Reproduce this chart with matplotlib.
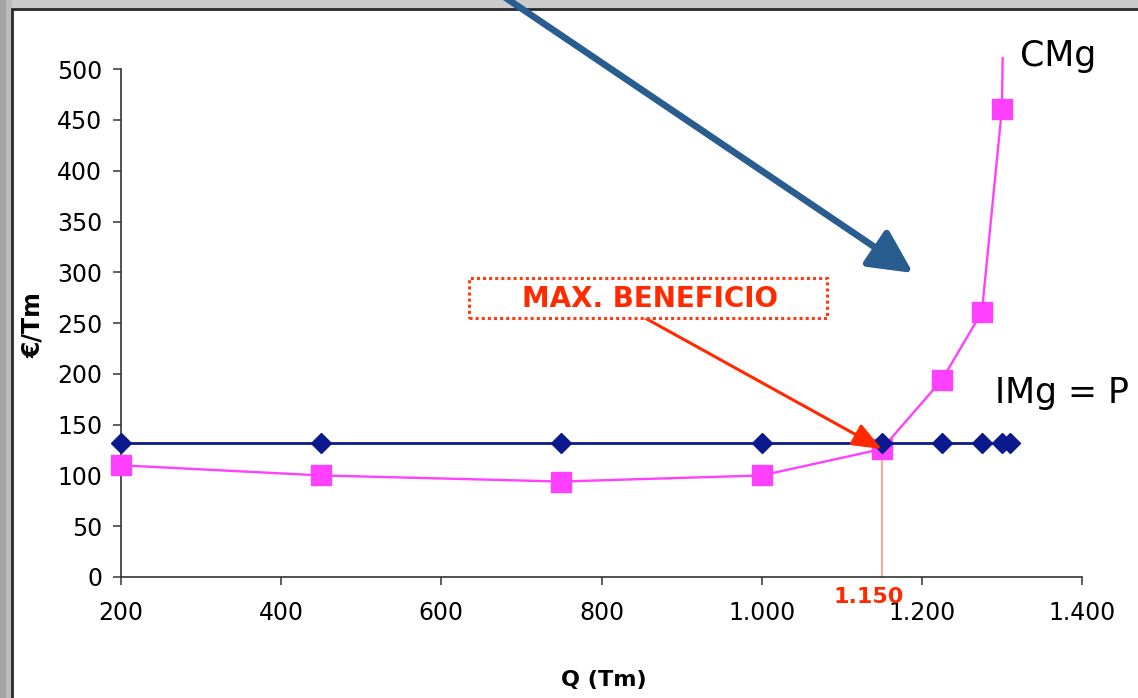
import matplotlib
matplotlib.use('Agg')
import matplotlib.pyplot as plt
from matplotlib.patches import Rectangle, FancyArrowPatch
import numpy as np

# ---- data ----
q = [200, 450, 750, 1000, 1150, 1225, 1275, 1300, 1310]
img_p = [132, 132, 132, 132, 132, 132, 132, 132, 132]
cmg = [110, 100, 94, 100, 126, 194, 261, 461, 1000]
q_opt = 1150
cmg_opt = 126
x_ticks = [200, 400, 600, 800, 1000, 1200, 1400]
x_tick_labels = ['200', '400', '600', '800', '1.000', '1.200', '1.400']
y_ticks = [0, 50, 100, 150, 200, 250, 300, 350, 400, 450, 500]

W, H = 1138, 698
fig = plt.figure(figsize=(W / 100, H / 100), dpi=100)
fig.patch.set_facecolor('#CCCCCC')

def fx(px):
    return px / W

def fy(py):
    return 1 - py / H

# background panel
fig.patches.append(Rectangle((fx(0), 0), fx(6), 1, transform=fig.transFigure,
                             facecolor='#A4A4A4', edgecolor='none', zorder=-3))
fig.patches.append(Rectangle((fx(6), 0), fx(6), 1, transform=fig.transFigure,
                             facecolor='#BCBCBC', edgecolor='none', zorder=-2))
fig.patches.append(Rectangle((fx(12), -0.01), 1.0, fy(9) + 0.01, transform=fig.transFigure,
                             facecolor='white', edgecolor='#2A2A2A', lw=2, zorder=-1))

ax = fig.add_axes([fx(121), fy(577), fx(1082) - fx(121), fy(57) - fy(577)])
ax.set_zorder(2)
ax.set_facecolor('none')
ax.set_xlim(200, 1400)
ax.set_ylim(0, 512)
for s in ['top', 'right']:
    ax.spines[s].set_visible(False)
ax.spines['left'].set_bounds(0, 500)
for s in ['left', 'bottom']:
    ax.spines[s].set_color('#333333')
    ax.spines[s].set_linewidth(1.2)

ax.set_xticks(x_ticks)
ax.set_xticklabels(x_tick_labels)
ax.set_yticks(y_ticks)
ax.tick_params(axis='both', labelsize=17, length=5.5, width=1.1, color='#333333', direction='out')
ax.tick_params(axis='x', pad=12)
ax.tick_params(axis='y', pad=8)

cmg_arr = np.array(cmg)
q_arr = np.array(q)
vis = cmg_arr <= 500

# CMg line
ax.plot(q, cmg, color='#FF40FF', lw=1.7, zorder=3)
ax.plot(q_arr[vis], cmg_arr[vis], ls='none', marker='s', ms=14,
        color='#FF40FF', zorder=4, clip_on=False)

# vertical line at optimum
ax.plot([q_opt, q_opt], [0, cmg_opt], color='#FF8A78', lw=1.1, zorder=2)

# IMg = P
ax.plot(q, img_p, color='#0A1A8C', lw=2.0, marker='D', ms=10.5,
        markerfacecolor='#0A1A8C', markeredgecolor='#0A1A8C', zorder=5, clip_on=False)

# labels
fig.text(fx(1058), fy(56), 'CMg', fontsize=25, ha='center', va='center', zorder=5)
fig.text(fx(1062), fy(393), 'IMg = P', fontsize=25, ha='center', va='center', zorder=5)
fig.text(fx(604), fy(680), 'Q (Tm)', fontsize=16, fontweight='bold', ha='center', va='center', zorder=5)
fig.text(fx(33), fy(325), '€/Tm', fontsize=17, fontweight='bold', ha='center', va='center',
         rotation=90, zorder=5)

ax.annotate(f"{q_opt:,}".replace(',', '.'), xy=(q_opt, 0), xytext=(-13, -20),
            textcoords='offset pixels', ha='center', va='center', fontsize=16,
            fontweight='bold', color='#FF2A00', annotation_clip=False)

# MAX. BENEFICIO box
fig.patches.append(Rectangle((fx(469), fy(318)), fx(827) - fx(469), fy(278) - fy(318),
                             transform=fig.transFigure, facecolor='white',
                             edgecolor='#FF3A10', lw=2.2, ls=(0, (1, 1)), zorder=6))
fig.text(fx(650), fy(299), 'MAX. BENEFICIO', fontsize=20, fontweight='bold',
         color='#FF2A00', ha='center', va='center', zorder=7)

# red arrow to optimum
ax.annotate('', xy=(q_opt, cmg_opt), xytext=(fx(645), fy(318)),
            textcoords='figure fraction', annotation_clip=False,
            arrowprops=dict(arrowstyle='-|>,head_length=1.0,head_width=0.4',
                            color='#FF2A00', lw=2.2, mutation_scale=18,
                            shrinkA=0, shrinkB=0), zorder=8)

# big blue arrow
arr = FancyArrowPatch((fx(500), fy(-6)), (fx(913), fy(273)), transform=fig.transFigure,
                      arrowstyle='-|>,head_length=1.1,head_width=0.55', mutation_scale=24,
                      color='#2A5D8F', lw=4.8, shrinkA=0, shrinkB=0, zorder=9)
fig.patches.append(arr)

fig.savefig('out.png', dpi=100, facecolor=fig.get_facecolor())
